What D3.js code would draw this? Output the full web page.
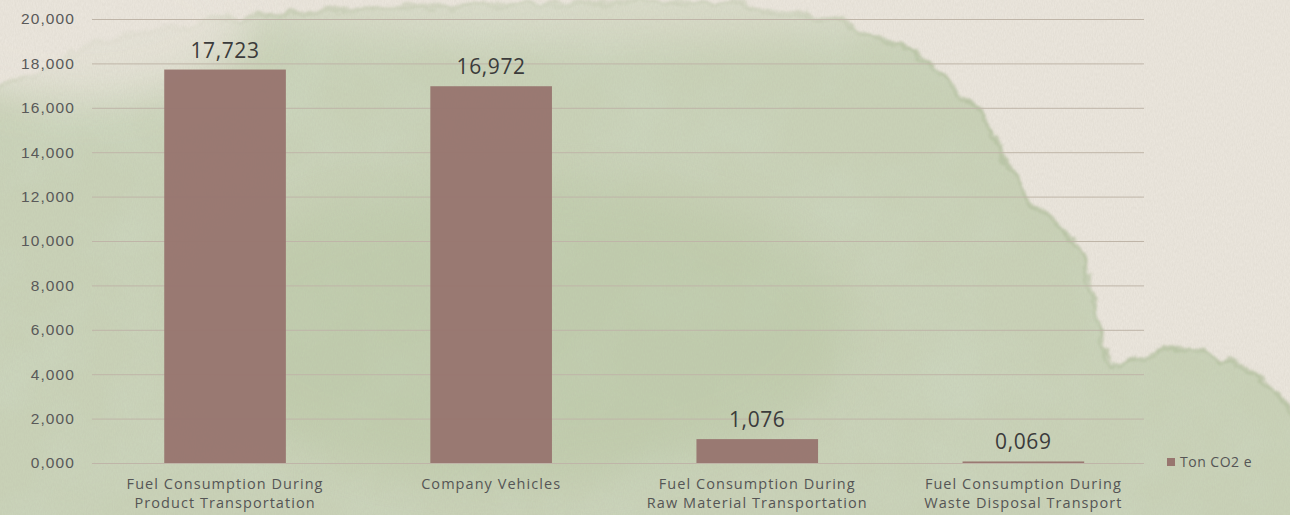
<!DOCTYPE html>
<html>
<head>
<meta charset="utf-8">
<script src="https://cdn.jsdelivr.net/npm/d3@7"></script>
<style>
	html, body { margin: 0; padding: 0; background: #e9e3da; }
	svg { display: block; font-family: "Open Sans", "Noto Sans", sans-serif; }
</style>
</head>
<body>
<svg id="chart" width="1290" height="515"></svg>
<script>
	// data
	const categories = [
		[ 'Fuel Consumption During', 'Product Transportation' ],
		[ 'Company Vehicles' ],
		[ 'Fuel Consumption During', 'Raw Material Transportation' ],
		[ 'Fuel Consumption During', 'Waste Disposal Transport' ]
	];
	const values = [ 17.723, 16.972, 1.076, 0.069 ];
	const yTicks = [ 0, 2, 4, 6, 8, 10, 12, 14, 16, 18, 20 ];
	const seriesName = 'Ton CO2 e';

	const W = 1290, H = 515;
	const svg = d3.select( '#chart' );
	const fmt = v => d3.format( '.3f' )( v ).replace( '.', ',' );

	// background: paper + green watercolour wash
	const defs = svg.append( 'defs' );
	const rough = defs.append( 'filter' ).attr( 'id', 'rough' )
		.attr( 'x', '-10%' ).attr( 'y', '-10%' ).attr( 'width', '120%' ).attr( 'height', '120%' );
	rough.append( 'feTurbulence' ).attr( 'type', 'fractalNoise' ).attr( 'baseFrequency', 0.04 )
		.attr( 'numOctaves', 4 ).attr( 'seed', 7 ).attr( 'result', 'n' );
	rough.append( 'feDisplacementMap' ).attr( 'in', 'SourceGraphic' ).attr( 'in2', 'n' )
		.attr( 'scale', 18 ).attr( 'xChannelSelector', 'R' ).attr( 'yChannelSelector', 'G' )
		.attr( 'result', 'd' );
	rough.append( 'feGaussianBlur' ).attr( 'in', 'd' ).attr( 'stdDeviation', 1.2 );

	// mottled wash texture, kept inside the wash shape
	const mottle = defs.append( 'filter' ).attr( 'id', 'mottle' )
		.attr( 'x', 0 ).attr( 'y', 0 ).attr( 'width', '100%' ).attr( 'height', '100%' );
	mottle.append( 'feTurbulence' ).attr( 'type', 'fractalNoise' ).attr( 'baseFrequency', 0.012 )
		.attr( 'numOctaves', 4 ).attr( 'seed', 11 ).attr( 'result', 't' );
	mottle.append( 'feColorMatrix' ).attr( 'in', 't' ).attr( 'type', 'matrix' )
		.attr( 'values', '0 0 0 0 0.62  0 0 0 0 0.70  0 0 0 0 0.55  1.6 0 0 0 -0.65' )
		.attr( 'result', 'c' );
	mottle.append( 'feComposite' ).attr( 'in', 'c' ).attr( 'in2', 'SourceGraphic' ).attr( 'operator', 'in' );

	const grain = defs.append( 'filter' ).attr( 'id', 'grain' );
	grain.append( 'feTurbulence' ).attr( 'type', 'fractalNoise' ).attr( 'baseFrequency', '0.9 0.3' )
		.attr( 'numOctaves', 3 ).attr( 'seed', 3 );
	grain.append( 'feColorMatrix' ).attr( 'type', 'matrix' )
		.attr( 'values', '0 0 0 0 0.45  0 0 0 0 0.42  0 0 0 0 0.36  0 0 0 0.2 -0.03' );

	const blur = defs.append( 'filter' ).attr( 'id', 'soft' )
		.attr( 'x', '-30%' ).attr( 'y', '-30%' ).attr( 'width', '160%' ).attr( 'height', '160%' );
	blur.append( 'feGaussianBlur' ).attr( 'stdDeviation', 22 );

	svg.append( 'rect' ).attr( 'width', W ).attr( 'height', H ).attr( 'fill', '#ebe6dd' );

	const washPts = [
		[ -20, 110 ], [ 30, 75 ], [ 110, 40 ], [ 250, 18 ], [ 420, 8 ], [ 600, 2 ], [ 780, 10 ],
		[ 900, 45 ], [ 985, 120 ], [ 1025, 195 ], [ 1075, 240 ], [ 1095, 300 ], [ 1112, 362 ],
		[ 1180, 348 ], [ 1250, 372 ], [ 1300, 430 ], [ 1310, 540 ], [ -20, 540 ]
	];
	const wash = d3.line().curve( d3.curveCatmullRomClosed.alpha( 0.5 ) );
	const washG = svg.append( 'g' ).attr( 'filter', 'url(#rough)' );
	washG.append( 'path' ).attr( 'd', wash( washPts ) ).attr( 'fill', '#c9d2b7' );
	washG.append( 'path' ).attr( 'd', wash( washPts ) ).attr( 'fill', 'none' )
		.attr( 'stroke', '#aebd98' ).attr( 'stroke-width', 5 ).attr( 'opacity', 0.6 );
	svg.append( 'path' ).attr( 'd', wash( washPts ) ).attr( 'fill', '#000' )
		.attr( 'filter', 'url(#mottle)' ).attr( 'opacity', 0.6 );
	svg.append( 'ellipse' ).attr( 'cx', 520 ).attr( 'cy', 330 ).attr( 'rx', 330 ).attr( 'ry', 150 )
		.attr( 'fill', '#b7c6a1' ).attr( 'opacity', 0.45 ).attr( 'filter', 'url(#soft)' );
	svg.append( 'ellipse' ).attr( 'cx', 80 ).attr( 'cy', 20 ).attr( 'rx', 170 ).attr( 'ry', 80 )
		.attr( 'fill', '#ebe6dd' ).attr( 'opacity', 0.85 ).attr( 'filter', 'url(#soft)' );
	svg.append( 'ellipse' ).attr( 'cx', 600 ).attr( 'cy', 0 ).attr( 'rx', 380 ).attr( 'ry', 40 )
		.attr( 'fill', '#ebe6dd' ).attr( 'opacity', 0.5 ).attr( 'filter', 'url(#soft)' );
	svg.append( 'rect' ).attr( 'width', W ).attr( 'height', H ).attr( 'filter', 'url(#grain)' );

	// scales
	const x = d3.scaleBand().domain( d3.range( values.length ) )
		.range( [ 92, 1156.4 ] ).paddingInner( 0.543 ).paddingOuter( 0.2715 );
	const y = d3.scaleLinear().domain( [ 0, 20 ] ).range( [ 463, 19 ] );

	// grid + y axis
	const yAxis = svg.append( 'g' ).attr( 'transform', 'translate(92,0)' )
		.call( d3.axisLeft( y ).tickValues( yTicks ).tickSize( -1052 ).tickPadding( 17 )
			.tickFormat( d => d3.format( ',' )( d * 1000 ).replace( /^0$/, '0,000' ) ) );
	yAxis.select( '.domain' ).remove();
	yAxis.selectAll( '.tick line' ).attr( 'stroke', '#bfb5a8' ).attr( 'stroke-width', 1 );
	yAxis.selectAll( '.tick text' ).attr( 'fill', '#595959' ).attr( 'font-size', 15.5 )
		.attr( 'letter-spacing', 1.1 );

	// bars
	svg.append( 'g' ).selectAll( 'rect' ).data( values ).enter().append( 'rect' )
		.attr( 'x', ( d, i ) => x( i ) )
		.attr( 'y', d => Math.min( y( d ), y( 0 ) - 1.5 ) )
		.attr( 'width', x.bandwidth() )
		.attr( 'height', d => Math.max( y( 0 ) - y( d ), 1.5 ) )
		.attr( 'fill', '#98766f' ).attr( 'opacity', 0.97 );

	// value labels
	svg.append( 'g' ).selectAll( 'text' ).data( values ).enter().append( 'text' )
		.attr( 'x', ( d, i ) => x( i ) + x.bandwidth() / 2 )
		.attr( 'y', d => y( d ) - 12 )
		.attr( 'text-anchor', 'middle' ).attr( 'font-size', 21 ).attr( 'fill', '#3b3b3b' )
		.attr( 'letter-spacing', 0.6 )
		.text( d => fmt( d ) );

	// category labels, one text per line
	const catG = svg.append( 'g' ).selectAll( 'g' ).data( categories ).enter().append( 'g' )
		.attr( 'transform', ( d, i ) => 'translate(' + ( x( i ) + x.bandwidth() / 2 ) + ',0)' );
	catG.selectAll( 'text' ).data( d => d ).enter().append( 'text' )
		.attr( 'y', ( d, i ) => 489 + i * 19 )
		.attr( 'text-anchor', 'middle' ).attr( 'font-size', 14.5 ).attr( 'fill', '#555' )
		.attr( 'letter-spacing', 1.05 )
		.text( d => d );

	// legend
	const legend = svg.append( 'g' ).attr( 'transform', 'translate(1167,458)' );
	legend.append( 'rect' ).attr( 'width', 8 ).attr( 'height', 8 ).attr( 'fill', '#98766f' );
	legend.append( 'text' ).attr( 'x', 13 ).attr( 'y', 8.5 ).attr( 'font-size', 14 )
		.attr( 'letter-spacing', 0.5 ).attr( 'fill', '#555' ).text( seriesName );
</script>
</body>
</html>
